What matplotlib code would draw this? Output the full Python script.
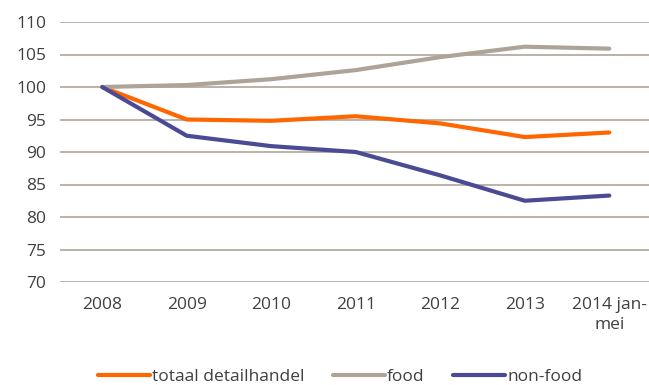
import matplotlib
matplotlib.use("Agg")
import matplotlib.pyplot as plt

categories = ["2008", "2009", "2010", "2011", "2012", "2013", "2014 jan-\nmei"]
totaal = [100, 95.0, 94.8, 95.5, 94.4, 92.3, 93.0]
food = [100, 100.3, 101.2, 102.6, 104.6, 106.2, 105.9]
nonfood = [100, 92.5, 90.9, 90.0, 86.4, 82.5, 83.3]
yticks = [70, 75, 80, 85, 90, 95, 100, 105, 110]

plt.rcParams['font.family'] = ['Open Sans', 'DejaVu Sans']
fig = plt.figure(figsize=(6.49, 3.85), dpi=100)
ax = fig.add_axes([60/649, 1-282/385, 589/649, 260/385])

x = range(len(categories))
ax.plot(x, totaal, color="#ff6600", lw=3, label="totaal detailhandel", solid_capstyle="round")
ax.plot(x, food, color="#ada397", lw=3, label="food", solid_capstyle="round")
ax.plot(x, nonfood, color="#4b4a94", lw=3, label="non-food", solid_capstyle="round")

ax.set_xlim(-0.5, 6.47)
ax.set_ylim(70, 110)
ax.set_yticks(yticks)
ax.set_xticks(list(x))
ax.set_xticklabels(categories, fontsize=12.5, color="#404040", linespacing=1.35)
ax.tick_params(axis='y', labelsize=12.5, colors="#404040", length=0, pad=10)
ax.tick_params(axis='x', length=0, pad=11)
for s in ax.spines.values():
    s.set_visible(False)
ax.grid(axis='y', color="#b5ada3", lw=1.3)
ax.set_axisbelow(True)
leg = ax.legend(loc='center', ncol=3, frameon=False, fontsize=12.5, handlelength=3.0,
                handletextpad=0.15, columnspacing=1.6, labelcolor="#404040")
leg.set_bbox_to_anchor((340/649, (385-377)/385), transform=fig.transFigure)
fig.savefig("out.png", dpi=100)
